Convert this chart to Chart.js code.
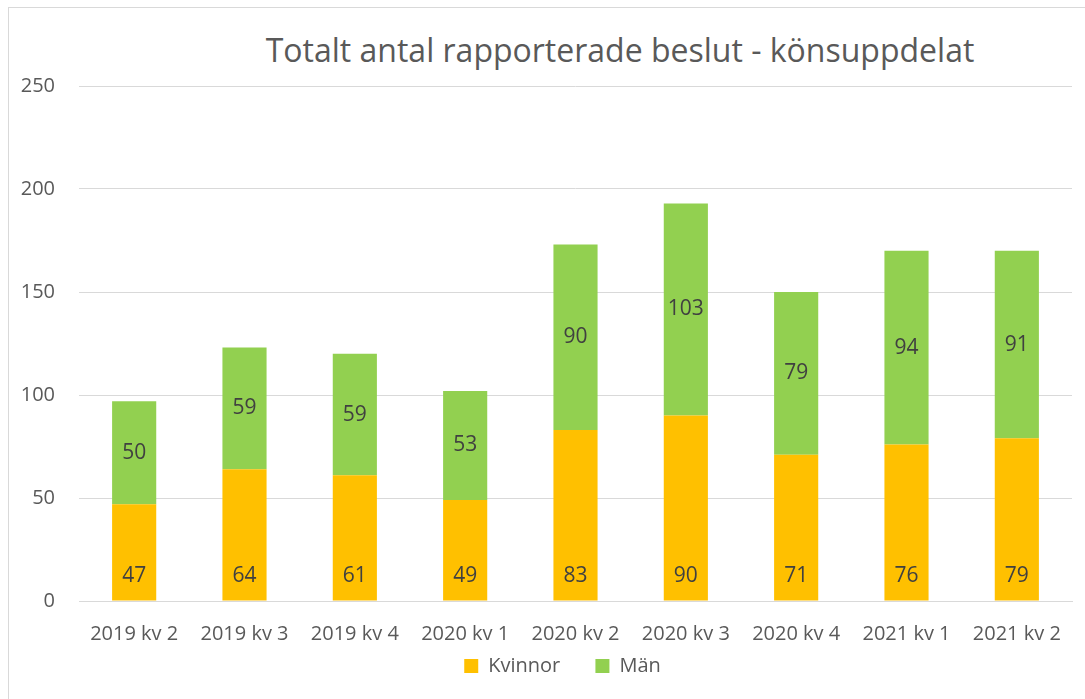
<!DOCTYPE html>
<html>
<head>
<meta charset="utf-8">
<script src="https://cdn.jsdelivr.net/npm/chart.js@4.4.1/dist/chart.umd.min.js"></script>
<style>
  html, body { margin: 0; padding: 0; background: #fff; }
  #wrap { position: relative; width: 1085px; height: 699px; }
  #frame { position: absolute; left: 8px; top: 7px; width: 1090px; height: 700px; border: 1px solid #d9d9d9; box-sizing: border-box; }
  #title { position: absolute; left: 0; width: 1240px; top: 28px; text-align: center;
           font-family: "Open Sans", sans-serif; font-size: 32px; color: #595959; white-space: nowrap; }
  canvas { position: absolute; left: 0; top: 0; }
</style>
</head>
<body>
<div id="wrap">
  <div id="frame"></div>
  <div id="title">Totalt antal rapporterade beslut - könsuppdelat</div>
  <canvas id="chart" width="1085" height="699"></canvas>
</div>
<script>
// data läst från bilden
const kvartal = ["2019 kv 2", "2019 kv 3", "2019 kv 4", "2020 kv 1", "2020 kv 2", "2020 kv 3", "2020 kv 4", "2021 kv 1", "2021 kv 2"];
const kvinnor = [47, 64, 61, 49, 83, 90, 71, 76, 79];
const man = [50, 59, 59, 53, 90, 103, 79, 94, 91];
const yTicks = [0, 50, 100, 150, 200, 250];

const textColor = "#595959";
const fontFam = "'Open Sans', sans-serif";

// etiketter i staplarna: kvinnor vid basen, män i mitten
const barLabels = {
  id: "barLabels",
  afterDatasetsDraw(chart) {
    const ctx = chart.ctx;
    ctx.save();
    ctx.font = "21px " + fontFam;
    ctx.fillStyle = "#404040";
    ctx.textAlign = "center";
    ctx.textBaseline = "middle";
    chart.data.datasets.forEach((ds, di) => {
      const meta = chart.getDatasetMeta(di);
      meta.data.forEach((bar, i) => {
        const y = di === 0 ? bar.base - 24 : (bar.y + bar.base) / 2;
        ctx.fillText(ds.data[i], bar.x, y);
      });
    });
    ctx.restore();
  }
};

function setup() {
  const ctx = document.getElementById("chart").getContext("2d");
  new Chart(ctx, {
    type: "bar",
    data: {
      labels: kvartal,
      datasets: [
        { label: "Kvinnor", data: kvinnor, backgroundColor: "#FFC000", categoryPercentage: 1, barPercentage: 0.4 },
        { label: "Män", data: man, backgroundColor: "#92D050", categoryPercentage: 1, barPercentage: 0.4 }
      ]
    },
    options: {
      responsive: false,
      animation: false,
      layout: { padding: { left: 19, right: 13, top: 86, bottom: 13 } },
      plugins: {
        legend: {
          position: "bottom",
          fullSize: false,
          labels: {
            color: textColor, font: { family: fontFam, size: 20 }, boxWidth: 14, boxHeight: 14, padding: 4,
            generateLabels: chart => {
              const items = Chart.defaults.plugins.legend.labels.generateLabels(chart);
              // lite extra luft mellan posterna, som i originalet
              const sp = "\u00a0\u00a0\u00a0\u00a0\u00a0\u00a0";
              items[0].text = items[0].text + sp;
              items[1].text = items[1].text + sp.slice(1);
              return items;
            }
          }
        },
        tooltip: { enabled: false }
      },
      scales: {
        x: {
          stacked: true,
          grid: { display: false },
          border: { color: "#d9d9d9" },
          afterFit: axis => { axis.height = 51; },
          ticks: { color: textColor, font: { family: fontFam, size: 20 }, padding: 13, maxRotation: 0 }
        },
        y: {
          stacked: true,
          min: 0,
          max: 250,
          afterBuildTicks: axis => { axis.ticks = yTicks.map(v => ({ value: v })); },
          afterFit: axis => { axis.width = 60; },
          grid: { color: "#d9d9d9", drawTicks: false },
          border: { display: false },
          ticks: { color: textColor, font: { family: fontFam, size: 20 }, padding: 24 }
        }
      }
    },
    plugins: [barLabels]
  });
}

window.onload = setup;
</script>
</body>
</html>
